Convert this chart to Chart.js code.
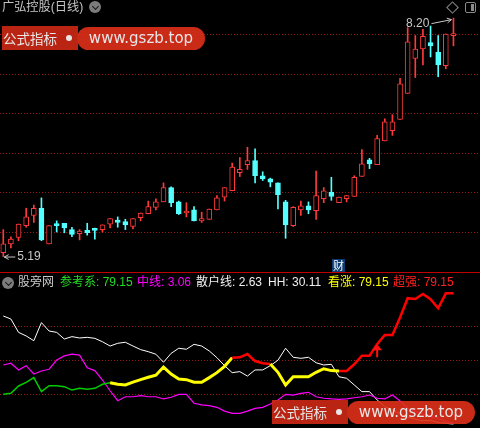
<!DOCTYPE html>
<html lang="zh-CN">

<head>
    <meta charset="UTF-8">
    <title>广弘控股(日线)</title>
    <script src="https://cdn.jsdelivr.net/npm/chart.js"></script>
    <style>
        body {
            margin: 0;
            background: #000;
        }

        #tela {
            position: relative;
            width: 480px;
            height: 428px;
            background: #000;
            overflow: hidden;
            font-family: 'Liberation Sans', 'Noto Sans CJK SC', sans-serif;
        }

        canvas {
            position: absolute;
            left: 0;
        }

        .abs {
            position: absolute;
            white-space: nowrap;
        }

        .circulo {
            position: absolute;
            width: 12px;
            height: 12px;
            border-radius: 50%;
            background: #7c7c7c;
        }

        .circulo::after {
            content: '';
            position: absolute;
            left: 3.5px;
            top: 2.5px;
            width: 4px;
            height: 4px;
            border-right: 1.5px solid #1a1a1a;
            border-bottom: 1.5px solid #1a1a1a;
            transform: rotate(45deg);
        }

        .selo {
            position: absolute;
            width: 205px;
            height: 25px;
            opacity: 0.9;
        }

        .selo .tag {
            position: absolute;
            left: 0;
            top: 0;
            width: 76px;
            height: 24px;
            background: #cf2a16;
            color: #fff;
            font: 13.5px 'Noto Sans CJK SC', sans-serif;
            line-height: 24px;
            padding-left: 1px;
            box-sizing: border-box;
        }

        .selo .ponto {
            position: absolute;
            left: 64px;
            top: 9px;
            width: 6px;
            height: 6px;
            border-radius: 50%;
            background: #fff;
        }

        .selo .url {
            position: absolute;
            left: 75px;
            top: 1px;
            width: 128px;
            height: 23px;
            border-radius: 12px;
            background: #e0301a;
            color: #fff;
            font: 15px 'DejaVu Sans', sans-serif;
            line-height: 23px;
            text-align: center;
        }
    </style>
</head>

<body>
    <div id="tela">
        <canvas id="grafPreco" width="480" height="273" style="top:0"></canvas>
        <canvas id="grafInd" width="480" height="154" style="top:274px"></canvas>
        <div class="abs" style="left:0;top:272px;width:480px;height:1px;background:#c00000"></div>

        <!-- cabecalho do painel de preco -->
        <div class="abs" style="left:2px;top:-1px;font-size:12.2px;line-height:16px;color:#c4c4c4">广弘控股(日线)</div>
        <div class="circulo" style="left:89px;top:1px"></div>
        <div class="abs" style="left:448px;top:3px;width:7px;height:7px;border:1px solid #8a8a8a;transform:rotate(45deg)"></div>
        <div class="abs" style="left:465px;top:2px;width:9px;height:9px;border:1.5px solid #8a8a8a;border-radius:2px">
            <div class="abs" style="right:1px;top:1px;width:3px;height:7px;background:#8a8a8a"></div>
        </div>

        <!-- legenda do painel do indicador -->
        <div class="circulo" style="left:2px;top:277px"></div>
        <div id="legendaInd"></div>

        <div class="selo" style="left:2px;top:26px">
            <div class="tag">公式指标</div>
            <div class="ponto"></div>
            <div class="url">www.gszb.top</div>
        </div>
        <div class="selo" style="left:272px;top:400px">
            <div class="tag">公式指标</div>
            <div class="ponto"></div>
            <div class="url">www.gszb.top</div>
        </div>
    </div>

    <script>
        // K线 (60 dias)
        const candleOpen = [5.24, 5.35, 5.43, 5.58, 5.71, 5.80, 5.35, 5.59, 5.61, 5.53,
            5.48, 5.52, 5.53, 5.53, 5.60, 5.65, 5.63, 5.57, 5.68, 5.73,
            5.81, 5.88, 6.06, 5.88, 5.74, 5.78, 5.64, 5.66, 5.78, 5.94,
            6.02, 6.25, 6.35, 6.40, 6.21, 6.17, 6.12, 5.88, 5.58, 5.78,
            5.83, 5.77, 5.92, 6.00, 5.87, 5.92, 5.95, 6.20, 6.41, 6.35,
            6.65, 6.78, 6.92, 7.25, 7.69, 7.81, 7.89, 7.77, 7.60, 7.98];
        const candleHigh = [5.53, 5.44, 5.60, 5.80, 5.84, 5.93, 5.58, 5.64, 5.61, 5.56,
            5.53, 5.61, 5.55, 5.59, 5.67, 5.69, 5.66, 5.67, 5.74, 5.89,
            5.92, 6.12, 6.07, 5.89, 5.87, 5.82, 5.75, 5.79, 5.96, 6.06,
            6.37, 6.44, 6.57, 6.55, 6.26, 6.18, 6.12, 5.90, 5.82, 5.89,
            5.88, 6.27, 6.06, 6.19, 5.94, 5.96, 6.21, 6.54, 6.43, 6.72,
            6.93, 6.98, 7.44, 8.08, 7.98, 8.06, 8.10, 7.98, 8.00, 8.20];
        const candleLow = [5.19, 5.30, 5.39, 5.56, 5.62, 5.39, 5.35, 5.50, 5.49, 5.44,
            5.40, 5.46, 5.41, 5.50, 5.55, 5.56, 5.53, 5.54, 5.64, 5.73,
            5.78, 5.88, 5.82, 5.72, 5.69, 5.64, 5.62, 5.66, 5.78, 5.89,
            6.02, 6.20, 6.29, 6.12, 6.15, 6.07, 5.79, 5.42, 5.57, 5.71,
            5.73, 5.66, 5.87, 5.90, 5.87, 5.88, 5.95, 6.20, 6.30, 6.35,
            6.65, 6.72, 6.92, 7.25, 7.45, 7.61, 7.71, 7.46, 7.56, 7.85];
        const candleClose = [5.35, 5.41, 5.60, 5.69, 5.80, 5.40, 5.58, 5.58, 5.55, 5.47,
            5.51, 5.49, 5.52, 5.59, 5.67, 5.62, 5.59, 5.67, 5.74, 5.82,
            5.88, 6.06, 5.87, 5.73, 5.76, 5.64, 5.67, 5.79, 5.93, 6.06,
            6.32, 6.29, 6.40, 6.21, 6.17, 6.13, 5.97, 5.59, 5.81, 5.83,
            5.78, 5.96, 6.02, 5.95, 5.94, 5.96, 6.19, 6.36, 6.36, 6.68,
            6.89, 6.89, 7.37, 7.90, 7.81, 7.97, 7.85, 7.61, 8.00, 7.99];

        // linhas pontilhadas do painel de preco
        const priceGrid = [5.5, 6.0, 6.5, 7.0, 7.5, 8.0];
        // dia com o icone "财"
        const eventDays = [44];

        // indicador 股旁网
        const refLine = [20.0, 20.6, 24.9, 27.0, 29.8, 21.6, 25.1, 25.1, 24.5, 22.5,
            23.5, 23.0, 23.5, 25.9, 26.8, 25.9, 25.5, 27.2, 28.6, 30.0,
            31.2, 36.0, 31.9, 29.0, 28.6, 27.1, 27.1, 29.8, 32.7, 36.4,
            41.5, 41.7, 43.6, 39.5, 38.2, 37.8, 32.9, 25.5, 30.3, 30.3,
            30.3, 32.9, 35.0, 33.9, 33.7, 33.7, 37.6, 42.6, 42.6, 49.3,
            54.8, 54.8, 65.0, 76.3, 75.8, 78.8, 75.7, 70.4, 79.15, 79.15];
        const midLine = [37.2, 38.2, 34.3, 36.8, 31.9, 33.7, 34.7, 40.1, 42.5, 43.6,
            43.0, 35.6, 33.9, 28.4, 22.1, 16.3, 18.6, 18.6, 19.2, 18.6,
            18.6, 17.3, 18.3, 20.0, 20.0, 14.8, 13.8, 13.4, 12.4, 10.2,
            8.9, 8.9, 10.2, 11.8, 12.4, 14.3, 16.7, 20.0, 19.6, 20.6,
            21.2, 18.6, 17.7, 17.3, 17.1, 17.3, 18.0, 18.6, 19.6, 17.7,
            17.3, 19.6, 16.1, 12.0, 10.0, 8.5, 7.0, 6.0, 4.0, 3.06];
        const retailLine = [65.9, 64.1, 56.3, 54.2, 51.4, 62.0, 57.1, 56.3, 52.4, 53.8,
            53.0, 53.4, 52.8, 50.8, 48.3, 49.9, 50.5, 48.3, 46.2, 45.0,
            43.5, 38.8, 44.0, 47.0, 46.4, 49.3, 48.3, 45.4, 41.5, 36.8,
            32.7, 33.3, 30.7, 34.3, 34.3, 36.8, 40.0, 47.0, 41.7, 41.1,
            41.7, 38.5, 37.2, 37.6, 30.3, 29.4, 25.5, 21.6, 21.6, 16.7,
            12.8, 11.0, 8.5, 6.5, 5.5, 4.5, 4.8, 3.5, 3.0, 2.63];
        const hhValue = 30.11;
        // trechos da linha de referencia: inicio e tipo (ref = verde, alta = amarelo, forte = vermelho)
        const zoneStart = [0, 14, 30, 35, 44];
        const zoneType = ['ref', 'alta', 'forte', 'alta', 'forte'];
        const buySignals = [49];
        const indGrid = [20, 40, 60];

        const RED = '#ff3a3a';
        const CYAN = '#54ffff';
        const GRID = '#9a1515';
        const FONTE = "'Liberation Sans', 'Noto Sans CJK SC', sans-serif";

        const dias = candleOpen.map((_, i) => i);
        const subiu = dias.map(i => candleClose[i] >= candleOpen[i]);
        const corVela = subiu.map(s => s ? RED : CYAN);

        function linhaPontilhada(chart, valores) {
            const ctx = chart.ctx;
            const area = chart.chartArea;
            ctx.save();
            ctx.strokeStyle = GRID;
            ctx.lineWidth = 1;
            ctx.setLineDash([1, 2]);
            valores.forEach(v => {
                const y = Math.round(chart.scales.y.getPixelForValue(v)) + 0.5;
                ctx.beginPath();
                ctx.moveTo(area.left, y);
                ctx.lineTo(area.right, y);
                ctx.stroke();
            });
            ctx.restore();
        }

        function seta(ctx, x1, y1, x2, y2) {
            const ang = Math.atan2(y2 - y1, x2 - x1);
            ctx.beginPath();
            ctx.moveTo(x1, y1);
            ctx.lineTo(x2, y2);
            ctx.moveTo(x2, y2);
            ctx.lineTo(x2 - 5 * Math.cos(ang - 0.5), y2 - 5 * Math.sin(ang - 0.5));
            ctx.moveTo(x2, y2);
            ctx.lineTo(x2 - 5 * Math.cos(ang + 0.5), y2 - 5 * Math.sin(ang + 0.5));
            ctx.stroke();
        }

        const gradePreco = {
            id: 'gradePreco',
            beforeDatasetsDraw(chart) {
                linhaPontilhada(chart, priceGrid);
            }
        };

        // maxima / minima e o icone 财
        const marcasPreco = {
            id: 'marcasPreco',
            afterDatasetsDraw(chart) {
                const ctx = chart.ctx;
                const sx = chart.scales.x;
                const sy = chart.scales.y;
                let iMax = 0, iMin = 0;
                dias.forEach(i => {
                    if (candleHigh[i] > candleHigh[iMax]) iMax = i;
                    if (candleLow[i] < candleLow[iMin]) iMin = i;
                });

                ctx.save();
                ctx.strokeStyle = '#c8c8c8';
                ctx.fillStyle = '#c8c8c8';
                ctx.lineWidth = 1;
                ctx.font = '12px ' + FONTE;
                ctx.textBaseline = 'middle';

                const hx = sx.getPixelForValue(iMax);
                const hy = sy.getPixelForValue(candleHigh[iMax]);
                ctx.textAlign = 'right';
                ctx.fillText(candleHigh[iMax].toFixed(2), hx - 24, hy + 6);
                seta(ctx, hx - 22, hy + 5.5, hx - 2, hy + 1.5);

                const lx = sx.getPixelForValue(iMin);
                const ly = sy.getPixelForValue(candleLow[iMin]);
                ctx.textAlign = 'left';
                ctx.fillText(candleLow[iMin].toFixed(2), lx + 14, ly + 0.5);
                seta(ctx, lx + 12, ly + 0.5, lx + 1, ly + 0.5);

                const fundo = chart.chartArea.bottom;
                eventDays.forEach(i => {
                    const cx = sx.getPixelForValue(i);
                    ctx.fillStyle = '#0c3c72';
                    ctx.fillRect(Math.round(cx - 6.5), fundo - 14, 13, 13);
                    ctx.fillStyle = '#ffffff';
                    ctx.font = "11px 'Noto Sans CJK SC', sans-serif";
                    ctx.textAlign = 'center';
                    ctx.fillText('财', Math.round(cx - 6.5) + 6.5, fundo - 7.5);
                });
                ctx.restore();
            }
        };

        const gradeInd = {
            id: 'gradeInd',
            beforeDatasetsDraw(chart) {
                linhaPontilhada(chart, indGrid);
            }
        };

        const sinalCompra = {
            id: 'sinalCompra',
            afterDatasetsDraw(chart) {
                const ctx = chart.ctx;
                ctx.save();
                ctx.fillStyle = '#ff1010';
                buySignals.forEach(i => {
                    const px = chart.scales.x.getPixelForValue(i);
                    const py = chart.scales.y.getPixelForValue(refLine[i]);
                    ctx.beginPath();
                    ctx.moveTo(px, py);
                    ctx.lineTo(px - 5, py + 6);
                    ctx.lineTo(px + 5, py + 6);
                    ctx.closePath();
                    ctx.fill();
                    ctx.fillRect(px - 1, py + 5, 2, 8);
                });
                ctx.restore();
            }
        };

        function faixaDe(idx) {
            let tipo = zoneType[0];
            zoneStart.forEach((ini, k) => {
                if (idx >= ini) tipo = zoneType[k];
            });
            return tipo;
        }

        const corFaixa = { ref: '#00cc00', alta: '#ffff00', forte: '#ff0000' };
        const larguraFaixa = { ref: 1.5, alta: 3, forte: 2.5 };

        const eixoX = { type: 'linear', min: -0.43, max: 62.48, display: false, offset: false };

        new Chart(document.getElementById('grafPreco'), {
            type: 'bar',
            data: {
                datasets: [{
                    label: 'sombra',
                    data: dias.map(i => ({ x: i, y: [candleLow[i], candleHigh[i]] })),
                    backgroundColor: corVela,
                    barThickness: 1,
                    grouped: false,
                    order: 2
                }, {
                    label: 'corpo',
                    data: dias.map(i => ({ x: i, y: [candleOpen[i], candleClose[i]] })),
                    backgroundColor: subiu.map(s => s ? '#000000' : CYAN),
                    borderColor: corVela,
                    borderWidth: 1,
                    borderSkipped: false,
                    barThickness: 5,
                    minBarLength: 2,
                    grouped: false,
                    order: 1
                }]
            },
            options: {
                responsive: false,
                animation: false,
                events: [],
                layout: { padding: 0 },
                plugins: { legend: { display: false }, tooltip: { enabled: false } },
                scales: {
                    x: eixoX,
                    y: { min: 4.982, max: 8.429, display: false }
                }
            },
            plugins: [gradePreco, marcasPreco]
        });

        const pontos = arr => arr.map((v, i) => ({ x: i, y: v }));

        new Chart(document.getElementById('grafInd'), {
            type: 'line',
            data: {
                datasets: [{
                    label: '散户线',
                    data: pontos(retailLine),
                    borderColor: '#ffffff',
                    borderWidth: 1,
                    pointRadius: 0,
                    order: 3
                }, {
                    label: '中线',
                    data: pontos(midLine),
                    borderColor: '#ff00ff',
                    borderWidth: 1.2,
                    pointRadius: 0,
                    order: 2
                }, {
                    label: '参考系',
                    data: pontos(refLine),
                    borderColor: '#00cc00',
                    borderWidth: 1.5,
                    pointRadius: 0,
                    order: 1,
                    segment: {
                        borderColor: c => corFaixa[faixaDe(c.p0DataIndex)],
                        borderWidth: c => larguraFaixa[faixaDe(c.p0DataIndex)]
                    }
                }]
            },
            options: {
                responsive: false,
                animation: false,
                events: [],
                layout: { padding: 0 },
                plugins: { legend: { display: false }, tooltip: { enabled: false } },
                scales: {
                    x: eixoX,
                    y: { min: 0.29, max: 90.48, display: false }
                }
            },
            plugins: [gradeInd, sinalCompra]
        });

        // legenda com os ultimos valores
        const ultimo = arr => arr[arr.length - 1].toFixed(2);
        const itensLegenda = [
            ['股旁网', '#c8c8c8', 18],
            ['参考系: ' + ultimo(refLine), '#22dd22', 60],
            ['中线: ' + ultimo(midLine), '#ff00ff', 137],
            ['散户线: ' + ultimo(retailLine), '#f0f0f0', 196],
            ['HH: ' + hhValue.toFixed(2), '#f0f0f0', 268],
            ['看涨: ' + ultimo(refLine), '#ffff00', 328],
            ['超强: ' + ultimo(refLine), '#ff2020', 393]
        ];
        document.getElementById('legendaInd').innerHTML = itensLegenda.map(item =>
            `<div class="abs" style="left:${item[2]}px;top:275px;font-size:12px;line-height:15px;color:${item[1]}">${item[0]}</div>`
        ).join('');
    </script>
</body>

</html>
